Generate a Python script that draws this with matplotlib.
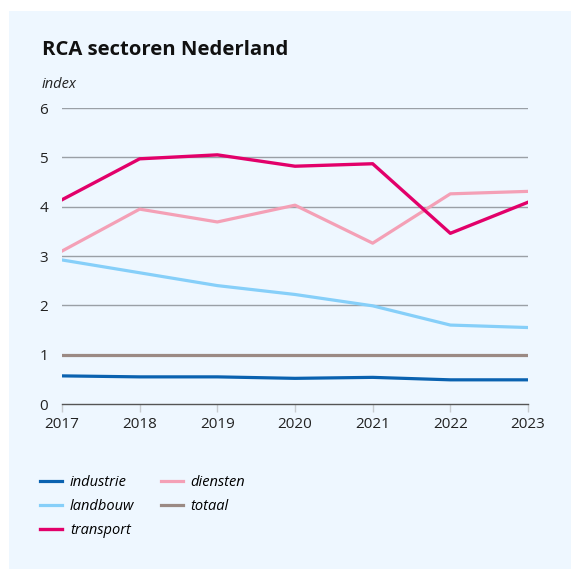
import matplotlib.pyplot as plt
from matplotlib.lines import Line2D
import matplotlib.patches as patches

years = [2017, 2018, 2019, 2020, 2021, 2022, 2023]
industrie = [0.57, 0.55, 0.55, 0.52, 0.54, 0.49, 0.49]
landbouw = [2.92, 2.66, 2.40, 2.22, 1.99, 1.60, 1.55]
transport = [4.14, 4.97, 5.05, 4.82, 4.87, 3.46, 4.09]
diensten = [3.10, 3.95, 3.69, 4.03, 3.26, 4.26, 4.31]
totaal = [1.0, 1.0, 1.0, 1.0, 1.0, 1.0, 1.0]
yticks = [0, 1, 2, 3, 4, 5, 6]

W, H = 571, 569
plt.rcParams['font.family'] = ['Open Sans', 'DejaVu Sans']

fig = plt.figure(figsize=(W / 100, H / 100), dpi=100)
fig.patch.set_facecolor('white')
# light blue panel behind everything
bg = patches.Rectangle((9 / W, 0), 1 - 9 / W, 1 - 11 / H, transform=fig.transFigure,
                       facecolor='#eef7ff', edgecolor='none', zorder=-10)
fig.patches.append(bg)

ax = fig.add_axes([62 / W, 165 / H, (528 - 62) / W, (461 - 165) / H])
ax.set_facecolor('none')

for y in yticks[1:]:
    ax.axhline(y, color='#9aa0a6', lw=1.0, zorder=1)

ax.plot(years, totaal, color='#9b8a84', lw=2.3, zorder=3)
ax.plot(years, industrie, color='#0a62b0', lw=2.3, zorder=3)
ax.plot(years, landbouw, color='#86cff9', lw=2.3, zorder=3)
ax.plot(years, diensten, color='#f4a0b6', lw=2.3, zorder=3)
ax.plot(years, transport, color='#e2006a', lw=2.4, zorder=4)

ax.set_xlim(2017, 2023)
ax.set_ylim(0, 6)
ax.set_xticks(years)
ax.set_yticks(yticks)
for s in ['top', 'right', 'left']:
    ax.spines[s].set_visible(False)
ax.spines['bottom'].set_color('#555555')
ax.spines['bottom'].set_linewidth(1.0)
ax.tick_params(axis='x', length=6, color='#c8ccd0', width=1, labelsize=11, pad=3,
               labelcolor='#222222')
ax.tick_params(axis='y', length=0, labelsize=11, pad=10, labelcolor='#222222')

fig.text(42 / W, 1 - 50 / H, 'RCA sectoren Nederland', fontsize=14.6, fontweight='bold',
         va='center', ha='left', color='#111111')
fig.text(42 / W, 1 - 84 / H, 'index', fontsize=10.5, style='italic', va='center',
         ha='left', color='#222222')

handles = [
    Line2D([], [], color='#0a62b0', lw=2.3),
    Line2D([], [], color='#86cff9', lw=2.3),
    Line2D([], [], color='#e2006a', lw=2.4),
    Line2D([], [], color='#f4a0b6', lw=2.3),
    Line2D([], [], color='#9b8a84', lw=2.3),
]
labels = ['industrie', 'landbouw', 'transport', 'diensten', 'totaal']
leg = fig.legend(handles, labels, loc='upper left', bbox_to_anchor=(27 / W, 1 - 462 / H),
                 ncol=2, frameon=False, handlelength=1.5, handletextpad=0.55,
                 columnspacing=1.8, labelspacing=0.6, prop={'size': 10.5, 'style': 'italic'})

fig.savefig('out.png', dpi=100)
